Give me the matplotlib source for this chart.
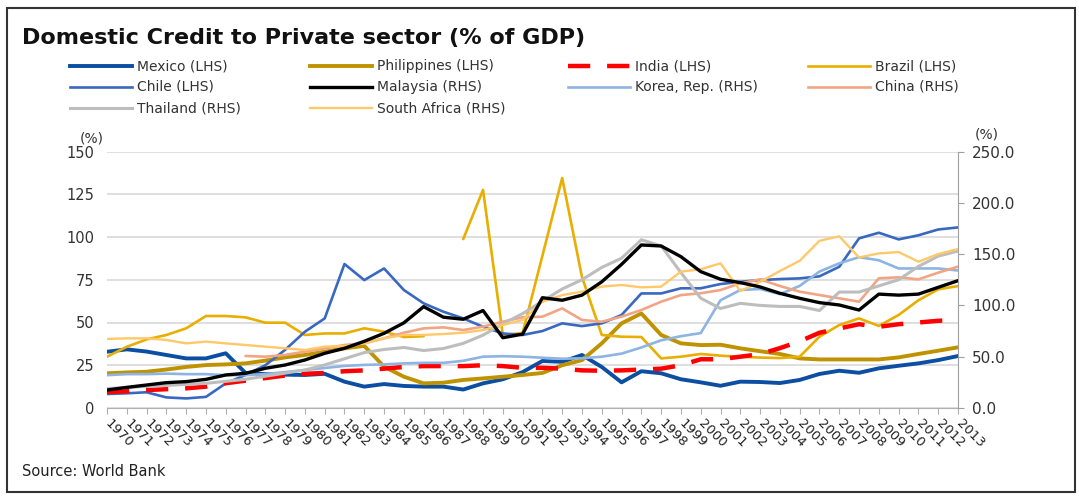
import matplotlib
matplotlib.use("Agg")
import matplotlib.pyplot as plt
from matplotlib.lines import Line2D
from matplotlib.patches import Rectangle
import numpy as np

nan = np.nan
years = list(range(1970, 2014))
year_labels = [str(y) for y in years]

mexico = [32.9, 34.3, 33.0, 31.0, 29.0, 29.0, 32.0, 20.5, 19.8, 19.5, 19.3, 20.0, 15.4, 12.5, 14.0,
          12.9, 12.5, 12.5, 10.8, 14.4, 16.8, 21.0, 27.5, 27.0, 31.0, 24.0, 15.0, 21.5, 20.3, 16.8,
          15.0, 13.0, 15.4, 15.2, 14.6, 16.4, 19.9, 21.8, 20.6, 23.2, 24.7, 26.1, 28.0, 30.4]
philippines = [20.3, 20.8, 21.2, 22.5, 24.0, 25.1, 25.5, 26.1, 27.7, 29.6, 31.0, 32.9, 34.9, 36.3, 24.2,
               18.3, 14.4, 14.8, 16.4, 17.3, 18.3, 19.3, 20.5, 25.0, 28.0, 37.8, 49.5, 55.3, 42.7, 37.8,
               36.8, 37.0, 34.9, 33.2, 31.6, 29.0, 28.4, 28.4, 28.4, 28.4, 29.6, 31.6, 33.5, 35.5]
india = [9.3, 9.8, 10.5, 11.0, 11.5, 12.5, 14.5, 16.0, 17.5, 19.0, 20.0, 20.5, 21.5, 22.0, 23.0,
         24.0, 24.5, 24.5, 24.5, 25.0, 24.5, 23.5, 23.5, 23.0, 22.0, 21.8, 22.0, 22.5, 23.0, 25.0,
         28.5, 28.5, 30.0, 31.5, 35.0, 39.0, 44.0, 46.5, 49.0, 47.5, 49.0, 50.0, 51.0, 51.5]
brazil = [30.0, 35.8, 40.1, 42.7, 46.6, 53.8, 53.8, 53.0, 49.9, 49.9, 42.7, 43.6, 43.6, 46.6, 44.6,
          41.5, 42.0, nan, 98.8, 127.5, 42.7, 43.9, 89.0, 134.5, 76.6, 42.7, 41.7, 41.5, 29.0, 30.0,
          31.6, 30.6, 30.0, 29.5, 29.2, 30.0, 41.7, 48.5, 52.4, 48.0, 54.4, 63.0, 69.4, 71.3]
chile = [8.2, 8.6, 9.2, 6.2, 5.6, 6.5, 14.4, 19.3, 25.0, 34.0, 44.6, 52.4, 84.2, 74.8, 81.6,
         69.0, 61.2, 56.3, 52.4, 47.5, 43.6, 42.7, 45.0, 49.5, 47.9, 49.5, 54.4, 67.0, 67.0, 70.0,
         70.0, 72.5, 73.8, 74.8, 75.4, 75.8, 77.0, 82.6, 99.2, 102.5, 98.6, 101.0, 104.4, 105.6]
malaysia = [17.5, 20.1, 22.4, 24.7, 25.7, 27.9, 32.2, 33.8, 38.7, 41.9, 46.8, 53.3, 58.2, 65.0, 72.8,
            83.0, 98.8, 88.5, 86.5, 95.0, 68.5, 72.0, 107.5, 105.0, 110.0, 123.0, 140.0, 158.9, 157.9, 147.5,
            132.9, 125.5, 122.2, 118.0, 111.8, 106.9, 102.7, 100.4, 95.5, 111.0, 110.0, 111.0, 117.6, 124.1]
korea = [32.0, 33.0, 33.0, 33.5, 33.0, 33.0, 32.0, 32.0, 33.0, 35.0, 37.0, 39.0, 41.0, 42.0, 42.5,
         43.5, 44.0, 44.0, 46.0, 50.0, 50.5, 50.0, 49.0, 48.0, 48.5, 50.0, 53.0, 59.0, 66.0, 70.0,
         73.0, 105.0, 115.0, 116.0, 111.0, 119.0, 133.0, 141.0, 147.0, 144.0, 136.0, 136.0, 136.0, 134.0]
china = [nan, nan, nan, nan, nan, nan, nan, 50.7, 50.0, 51.7, 54.9, 58.0, 61.4, 63.0, 67.9,
         73.4, 77.6, 78.6, 76.0, 79.3, 84.1, 88.4, 89.0, 97.1, 85.8, 84.1, 89.0, 95.5, 103.6, 110.1,
         111.8, 115.0, 121.5, 125.4, 118.9, 113.4, 110.1, 106.9, 103.6, 126.4, 127.4, 125.4, 131.9, 137.8]
thailand = [19.0, 20.0, 21.0, 22.0, 23.0, 24.0, 26.0, 28.0, 31.0, 34.0, 37.0, 42.0, 48.0, 54.0, 57.0,
            59.0, 56.0, 58.0, 63.0, 71.0, 82.0, 92.0, 104.0, 116.0, 125.0, 137.0, 146.0, 164.0, 158.0, 132.0,
            107.0, 97.0, 102.0, 100.0, 99.0, 99.0, 95.0, 113.0, 113.0, 119.0, 125.0, 138.0, 148.0, 153.0]
south_africa = [67.3, 67.9, 67.9, 66.3, 63.0, 64.7, 63.0, 61.4, 59.8, 58.2, 56.5, 59.8, 60.4, 63.0, 67.9,
                71.2, 71.2, 72.1, 73.4, 76.0, 80.9, 85.8, 103.6, 110.0, 113.4, 118.3, 119.9, 117.6, 118.3, 132.9,
                135.2, 141.0, 114.0, 123.0, 133.5, 143.5, 163.0, 167.3, 146.7, 150.7, 152.0, 142.6, 150.0, 155.0]

left_ticks = [0, 25, 50, 75, 100, 125, 150]
right_ticks = [0, 50, 100, 150, 200, 250]

# (name, data, axis, color, lw, dashed, legend col, legend row, zorder)
series = [
    ("Mexico (LHS)", mexico, "L", "#0B4EA2", 2.8, False, 0, 0, 3),
    ("Philippines (LHS)", philippines, "L", "#BF9300", 2.8, False, 1, 0, 3),
    ("India (LHS)", india, "L", "#FF0000", 3.2, True, 2, 0, 6),
    ("Brazil (LHS)", brazil, "L", "#E8AE00", 1.9, False, 3, 0, 4),
    ("Chile (LHS)", chile, "L", "#3868C0", 1.9, False, 0, 1, 4),
    ("Malaysia (RHS)", malaysia, "R", "#000000", 2.4, False, 1, 1, 5),
    ("Korea, Rep. (RHS)", korea, "R", "#8DB4E2", 1.9, False, 2, 1, 3),
    ("China (RHS)", china, "R", "#F2A584", 1.9, False, 3, 1, 3),
    ("Thailand (RHS)", thailand, "R", "#BDBDBD", 2.2, False, 0, 2, 3),
    ("South Africa (RHS)", south_africa, "R", "#FFC868", 1.7, False, 1, 2, 3),
]

W, H = 1079, 498
fig = plt.figure(figsize=(W / 100, H / 100), dpi=100)
fig.patch.set_facecolor("white")

x0, x1, ytop, ybot = 107, 958, 151.5, 408
ax = fig.add_axes([x0 / W, 1 - ybot / H, (x1 - x0) / W, (ybot - ytop) / H])
ax2 = ax.twinx()
ax.set_zorder(1)
ax2.set_zorder(2)
ax.patch.set_visible(False)
ax2.patch.set_visible(False)

xs = np.arange(len(years))
for name, data, side, color, lw, dashed, c, r, z in series:
    target = ax if side == "L" else ax2
    kw = dict(color=color, lw=lw, zorder=z, solid_capstyle="round", solid_joinstyle="round")
    if dashed:
        kw.update(dashes=(5.0, 3.8), dash_capstyle="butt")
    target.plot(xs, data, **kw)

ax.set_xlim(0, len(years) - 1)
ax.set_ylim(0, 150)
ax2.set_ylim(0, 250)
ax.set_yticks(left_ticks)
ax.set_yticklabels([str(t) for t in left_ticks], fontsize=10.5, color="#333333", family="DejaVu Sans")
ax2.set_yticks(right_ticks)
ax2.set_yticklabels(["%.1f" % t for t in right_ticks], fontsize=11, color="#333333", family="DejaVu Sans")
ax.grid(axis="y", color="#D9D9D9", lw=1.2)
ax.set_axisbelow(True)
ax.tick_params(axis="y", length=0, pad=9)
ax2.tick_params(axis="y", length=4, color="#A0A0A0", pad=6, direction="out")

ax.set_xticks(xs)
ax.set_xticklabels(year_labels, rotation=-45, ha="left", va="center", rotation_mode="anchor",
                   fontsize=9.5, color="#222222", family="DejaVu Sans")
ax.tick_params(axis="x", length=4, color="#B0B0B0", pad=6)

for a in (ax, ax2):
    for s in ("top", "left"):
        a.spines[s].set_visible(False)
    a.spines["right"].set_visible(a is ax2)
    a.spines["bottom"].set_color("#B0B0B0")
ax2.spines["bottom"].set_visible(False)
ax2.spines["right"].set_color("#A0A0A0")

# Unit labels
fig.text(80 / W, 1 - 138 / H, "(%)", fontsize=10, color="#333333", va="center", ha="left")
fig.text(975 / W, 1 - 134 / H, "(%)", fontsize=10, color="#333333", va="center", ha="left")

# Title
fig.text(22 / W, 1 - 38 / H, "Domestic Credit to Private sector (% of GDP)", fontsize=16,
         fontweight="bold", family="DejaVu Sans", color="#111111", va="center", ha="left")

# Legend drawn manually at fixed positions
col_x = [70, 310, 568, 808]
row_y = [66, 87, 108]
for name, data, side, color, lw, dashed, c, r, z in series:
    hx0, hx1 = col_x[c], col_x[c] + 62
    yy = 1 - row_y[r] / H
    kw = dict(color=color, lw=lw, transform=fig.transFigure)
    if dashed:
        kw.update(dashes=(5.0, 3.8), dash_capstyle="butt")
    fig.add_artist(Line2D([hx0 / W, hx1 / W], [yy, yy], **kw))
    fig.text((hx1 + 5) / W, yy, name, fontsize=10, color="#333333", va="center", ha="left",
             family="DejaVu Sans")

# Source
fig.text(22 / W, 1 - 471 / H, "Source: World Bank", fontsize=10.5, color="#222222",
         family="DejaVu Sans", va="center", ha="left")

# Frame
fig.add_artist(Rectangle((7 / W, 1 - 492 / H), (1075 - 7) / W, (492 - 8) / H, transform=fig.transFigure,
                         fill=False, edgecolor="#333333", lw=1.5))

fig.savefig("out.png", dpi=100)
